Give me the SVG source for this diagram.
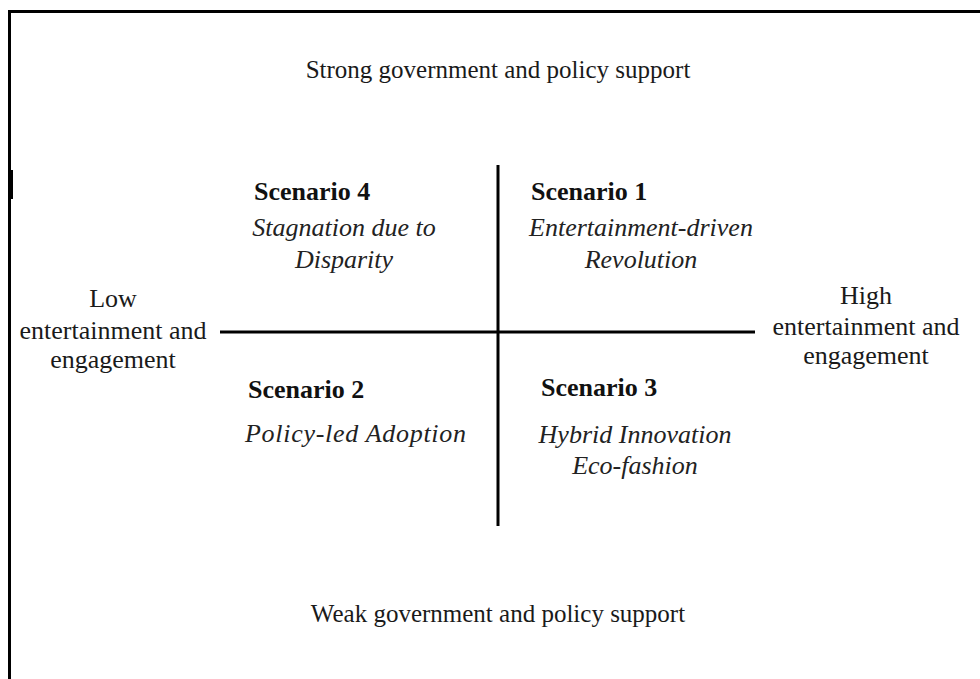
<svg xmlns="http://www.w3.org/2000/svg" width="980" height="679" viewBox="0 0 980 679">
<style>
text{font-family:"Liberation Serif","Times New Roman",serif;fill:#1a1a1a}
.ax{font-size:25px}
.lbl{font-size:26px;text-anchor:middle}
.b{font-size:26px;font-weight:bold;fill:#111}
.i{font-size:26px;font-style:italic;fill:#222}
.m{text-anchor:middle}
.ln{stroke:#000;stroke-width:3;fill:none}
</style>
<rect width="980" height="679" fill="#fff"/>
<g id="frame">
<path class="ln" d="M9.5 679 V11.5 H980"/>
<rect x="8" y="170" width="5" height="29" fill="#000"/>
</g>
<g id="connectors">
<line class="ln" x1="498" y1="165" x2="498" y2="526"/>
<line class="ln" x1="220" y1="332" x2="755" y2="332"/>
</g>
<g id="top-label"><text class="ax m" x="498" y="78">Strong government and policy support</text></g>
<g id="bottom-label"><text class="ax m" x="498" y="622">Weak government and policy support</text></g>
<g id="left-label">
<text class="lbl" x="113" y="307">Low</text>
<text class="lbl" x="113" y="339">entertainment and</text>
<text class="lbl" x="113" y="368">engagement</text>
</g>
<g id="right-label">
<text class="lbl" x="866" y="304">High</text>
<text class="lbl" x="866" y="335">entertainment and</text>
<text class="lbl" x="866" y="364">engagement</text>
</g>
<g id="scenario4">
<text class="b" x="254" y="200">Scenario 4</text>
<text class="i m" x="344" y="236">Stagnation due to</text>
<text class="i m" x="344" y="268">Disparity</text>
</g>
<g id="scenario1">
<text class="b" x="531" y="200">Scenario 1</text>
<text class="i m" x="641" y="236">Entertainment-driven</text>
<text class="i m" x="641" y="268">Revolution</text>
</g>
<g id="scenario2">
<text class="b" x="248" y="398">Scenario 2</text>
<text class="i" x="245" y="442" textLength="221" lengthAdjust="spacing">Policy-led Adoption</text>
</g>
<g id="scenario3">
<text class="b" x="541" y="396">Scenario 3</text>
<text class="i m" x="635" y="443">Hybrid Innovation</text>
<text class="i m" x="635" y="474">Eco-fashion</text>
</g>
</svg>
